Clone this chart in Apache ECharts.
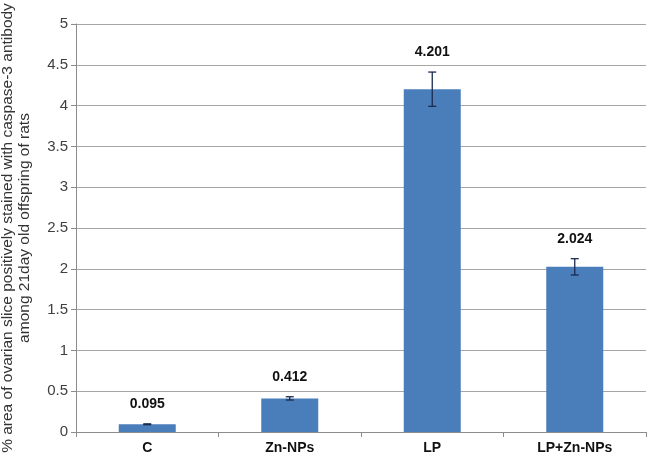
<!DOCTYPE html>
<html>
<head>
<meta charset="utf-8">
<script src="https://cdn.jsdelivr.net/npm/echarts@6/dist/echarts.min.js"></script>
<style>
  html, body { margin: 0; padding: 0; background: #fff; }
  #chart { width: 651px; height: 464px; }
</style>
</head>
<body>
<div id="chart"></div>
<script>
  var categories = ['C', 'Zn-NPs', 'LP', 'LP+Zn-NPs'];
  var means = [0.095, 0.412, 4.201, 2.024];
  var errors = [0.005, 0.02, 0.21, 0.1];
  var labels = ['0.095', '0.412', '4.201', '2.024'];
  var yTicks = [0, 0.5, 1, 1.5, 2, 2.5, 3, 3.5, 4, 4.5, 5];

  var chart = echarts.init(document.getElementById('chart'));

  var errData = means.map(function (m, i) { return [i, m - errors[i], m + errors[i], m]; });

  chart.setOption({
    animation: false,
    grid: { left: 76, right: 5, top: 24, bottom: 32, outerBoundsMode: 'none', containLabel: false },
    xAxis: {
      type: 'category',
      data: categories,
      axisLine: { lineStyle: { color: '#8c8c8c', width: 1 } },
      axisTick: { show: true, length: 5, lineStyle: { color: '#8c8c8c' } },
      axisLabel: {
        color: '#111',
        fontFamily: '"Liberation Sans", Arial, sans-serif',
        fontWeight: 'bold',
        fontSize: 14,
        margin: 9
      }
    },
    yAxis: {
      type: 'value',
      min: 0,
      max: 5,
      interval: 0.5,
      name: '% area of ovarian slice positively stained with caspase-3 antibody\namong 21day old offspring of rats',
      nameLocation: 'middle',
      nameGap: 43,
      nameTextStyle: { color: '#333', fontFamily: '"Liberation Sans", Arial, sans-serif', fontSize: 15.5, lineHeight: 17 },
      axisLine: { show: true, lineStyle: { color: '#8c8c8c' } },
      axisTick: { show: true, length: 5, lineStyle: { color: '#8c8c8c' } },
      axisLabel: {
        color: '#404040',
        fontFamily: '"Liberation Sans", Arial, sans-serif',
        fontSize: 15,
        margin: 8,
        formatter: function (v) { return yTicks.indexOf(v) >= 0 ? String(v) : ''; }
      },
      splitLine: { lineStyle: { color: '#a6a6a6', width: 1 } }
    },
    series: [
      {
        type: 'bar',
        data: means,
        barWidth: '40%',
        itemStyle: { color: '#4a7ebb' },
        z: 2
      },
      {
        type: 'custom',
        data: errData,
        z: 5,
        renderItem: function (params, api) {
          var x = api.value(0);
          var lo = api.coord([x, api.value(1)]);
          var hi = api.coord([x, api.value(2)]);
          var hw = 4;
          var style = { stroke: '#1a2a50', lineWidth: 1.3 };
          return {
            type: 'group',
            children: [
              { type: 'line', shape: { x1: lo[0], y1: lo[1], x2: hi[0], y2: hi[1] }, style: style },
              { type: 'line', shape: { x1: lo[0] - hw, y1: lo[1], x2: lo[0] + hw, y2: lo[1] }, style: style },
              { type: 'line', shape: { x1: hi[0] - hw, y1: hi[1], x2: hi[0] + hw, y2: hi[1] }, style: style },
              {
                type: 'text',
                x: hi[0],
                y: hi[1] - 20,
                style: {
                  text: labels[params.dataIndex],
                  fill: '#111',
                  font: 'bold 14px "Liberation Sans", Arial, sans-serif',
                  align: 'center',
                  verticalAlign: 'middle'
                }
              }
            ]
          };
        }
      }
    ]
  });
</script>
</body>
</html>
